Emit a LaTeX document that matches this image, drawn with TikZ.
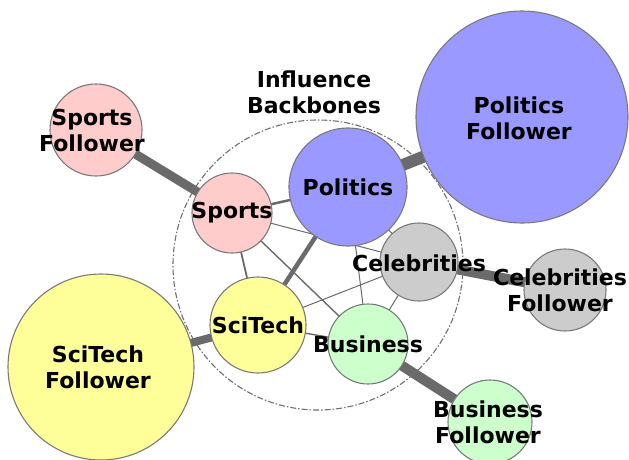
\documentclass[tikz,border=0pt]{standalone}
\usepackage{fontspec}
\setmainfont{DejaVu Sans}
\begin{document}
\pgfdeclarelayer{links}
\pgfdeclarelayer{ring}
\pgfsetlayers{links,ring,main}
\definecolor{edgegray}{HTML}{6A6A6A}
\definecolor{rimgray}{HTML}{7A7A7A}
\definecolor{ringgray}{HTML}{707070}
\definecolor{sportsc}{HTML}{FFCCCC}
\definecolor{politicsc}{HTML}{9999FF}
\definecolor{celebc}{HTML}{CCCCCC}
\definecolor{scitechc}{HTML}{FFFF99}
\definecolor{businessc}{HTML}{CCFFCC}
\tikzset{
  topic/.style={circle, draw=rimgray, line width=1.1pt, inner sep=0pt},
  lbl/.style={font=\bfseries\fontsize{22}{26}\selectfont, align=center, inner sep=0pt, text=black},
  link/.style={draw=edgegray, line cap=butt},
  ringline/.style={draw=ringgray, line width=1.1pt, dash pattern=on 6pt off 2pt on 1.5pt off 2pt},
}
\begin{tikzpicture}[x=1pt,y=-1pt]
  \useasboundingbox (0,0) rectangle (629,459);

  % topic circles
  \node[topic, fill=politicsc, minimum size=212pt] (pf) at (522,117) {};
  \node[topic, fill=sportsc,   minimum size=92pt]  (sf) at (96,130) {};
  \node[topic, fill=scitechc,  minimum size=186pt] (tf) at (101,367) {};
  \node[topic, fill=celebc,    minimum size=82pt]  (cf) at (565,290) {};
  \node[topic, fill=businessc, minimum size=84pt]  (bf) at (490,422) {};

  \node[topic, fill=sportsc,   minimum size=80pt]  (sp) at (232,213) {};
  \node[topic, fill=politicsc, minimum size=118pt] (po) at (348,187) {};
  \node[topic, fill=celebc,    minimum size=78pt]  (ce) at (419,262) {};
  \node[topic, fill=scitechc,  minimum size=96pt]  (st) at (258,325) {};
  \node[topic, fill=businessc, minimum size=80pt]  (bu) at (368,344) {};

  % backbone ring
  \node[circle, minimum size=290pt, inner sep=0pt] (ring) at (318,265) {};
  \begin{pgfonlayer}{ring}
    \draw[ringline] (ring.center) circle[radius=145pt];
  \end{pgfonlayer}

  % links between topics and followers
  \begin{pgfonlayer}{links}
    \draw[link, line width=9pt]  (sf.center) -- (sp.center);
    \draw[link, line width=12pt] (pf.center) -- (po.center);
    \draw[link, line width=10pt] (cf.center) -- (ce.center);
    \draw[link, line width=8pt]  (tf.center) -- (st.center);
    \draw[link, line width=10pt] (bf.center) -- (bu.center);
    \draw[link, line width=4.5pt] (po.center) -- (st.center);
    \draw[link, line width=2.5pt] (sp.center) -- (po.center);
    \draw[link, line width=1.8pt] (sp.center) -- (st.center);
    \draw[link, line width=1.4pt] (sp.center) -- (bu.center);
    \draw[link, line width=1pt]   (sp.center) -- (ce.center);
    \draw[link, line width=1pt]   (po.center) -- (ce.center);
    \draw[link, line width=1pt]   (po.center) -- (bu.center);
    \draw[link, line width=1pt]   (st.center) -- (ce.center);
    \draw[link, line width=1.4pt] (st.center) -- (bu.center);
    \draw[link, line width=1pt]   (ce.center) -- (bu.center);
  \end{pgfonlayer}

  % labels
  \node[lbl] (pf-t) at (519,118) {Politics\\Follower};
  \node[lbl] (sf-t) at (92,130) {Sports\\Follower};
  \node[lbl] (tf-t) at (98,367) {SciTech\\Follower};
  \node[lbl] (cf-t) at (560,290) {Celebrities\\Follower};
  \node[lbl] (bf-t) at (488,422) {Business\\Follower};
  \node[lbl] (sp-t) at (232,213) {Sports};
  \node[lbl] (po-t) at (348,187) {Politics};
  \node[lbl] (ce-t) at (419,263) {Celebrities};
  \node[lbl] (st-t) at (258,325) {SciTech};
  \node[lbl] (bu-t) at (368,344) {Business};
  \node[lbl] (ib-t) at (314,92) {Influence\\Backbones};
\end{tikzpicture}
\end{document}
